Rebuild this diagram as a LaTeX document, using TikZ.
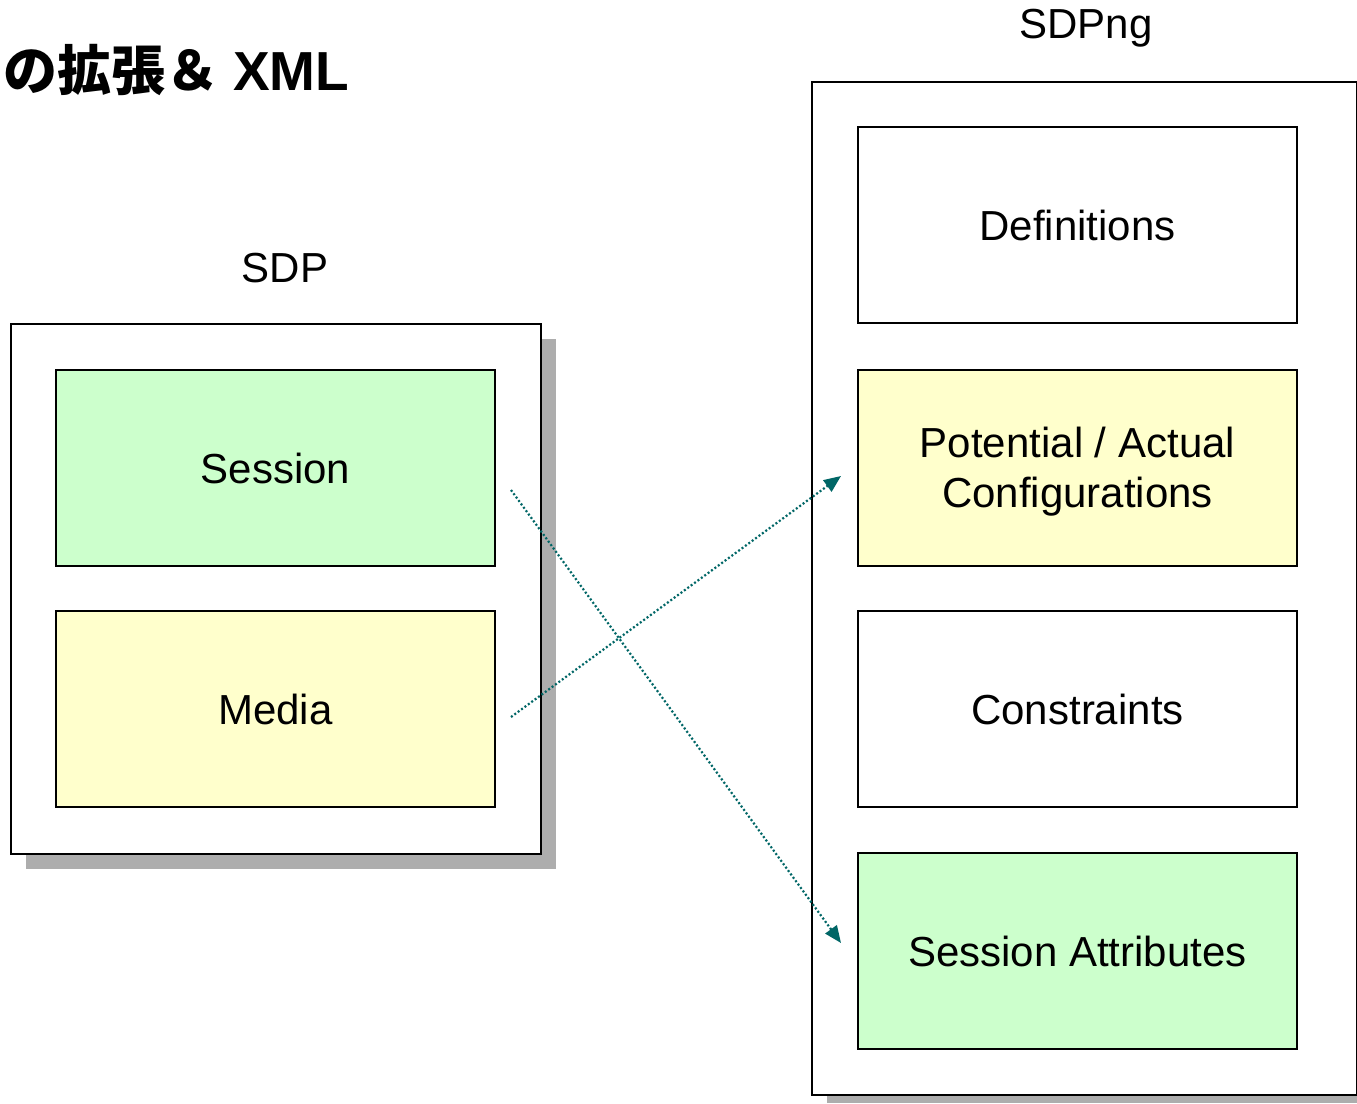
\documentclass[tikz,border=0pt]{standalone}
\usepackage{fontspec}
\setmainfont{Liberation Sans}
\newfontfamily\cjk{Noto Sans CJK JP}
\usetikzlibrary{arrows.meta,calc}
\definecolor{sgreen}{HTML}{CCFFCC}
\definecolor{syellow}{HTML}{FFFFCC}
\definecolor{teal6}{HTML}{006666}
\tikzset{
  outerbox/.style={draw=black,line width=2pt,fill=white,inner sep=0pt},
  shadowbox/.style={fill=black!32,draw=none},
  innerbox/.style={draw=black,line width=2pt,minimum width=439pt,minimum height=196pt,anchor=north west,align=center,font=\fontsize{42}{50}\selectfont,inner sep=0pt},
  lbl/.style={font=\fontsize{42}{50}\selectfont,inner sep=0pt},
  conn/.style={teal6,line width=2.2pt,dash pattern=on 2pt off 2.2pt,-{Triangle[length=17pt,width=14pt]}}
}
\begin{document}
\begin{tikzpicture}[x=1pt,y=-1pt]
\useasboundingbox (0,0) rectangle (1357,1103);
% shadows
\fill[shadowbox] (26,339) rectangle (556,869);
\fill[shadowbox] (827,97) rectangle (1357,1103);
% outer boxes
\node[outerbox,minimum width=530pt,minimum height=530pt,anchor=north west] (sdpbox) at (10,323) {};
\node[outerbox,minimum width=545pt,minimum height=1013pt,anchor=north west] (ngbox) at (811,81) {};
% titles
\node[anchor=west,inner sep=0pt,font=\cjk\bfseries\fontsize{54}{60}\selectfont] (title) at (3,70) {の拡張＆\hspace{14pt}{\fontspec{Liberation Sans}\bfseries\fontsize{55}{60}\selectfont XML}};
\node[lbl] (sdplbl) at (285,268) {SDP};
\node[lbl] (nglbl) at (1086,28) {SDPng};
% left inner boxes
\node[innerbox,fill=sgreen] (sess) at (55,369) {Session};
\node[innerbox,fill=syellow] (media) at (55,610) {Media};
% right inner boxes
\node[innerbox,fill=white] (defs) at (857,126) {Definitions};
\node[innerbox,fill=syellow] (pot) at (857,369) {\parbox{439pt}{\centering\vspace*{8pt}Potential / Actual\\Configurations}};
\node[innerbox,fill=white] (cons) at (857,610) {Constraints};
\node[innerbox,fill=sgreen] (sattr) at (857,852) {Session Attributes};
% connectors
\draw[conn] ($(sess.east)+(15,22)$) -- ($(sattr.west)+(-16,-8)$);
\draw[conn] ($(media.east)+(15,8)$) -- ($(pot.west)+(-16,8)$);
\end{tikzpicture}
\end{document}
